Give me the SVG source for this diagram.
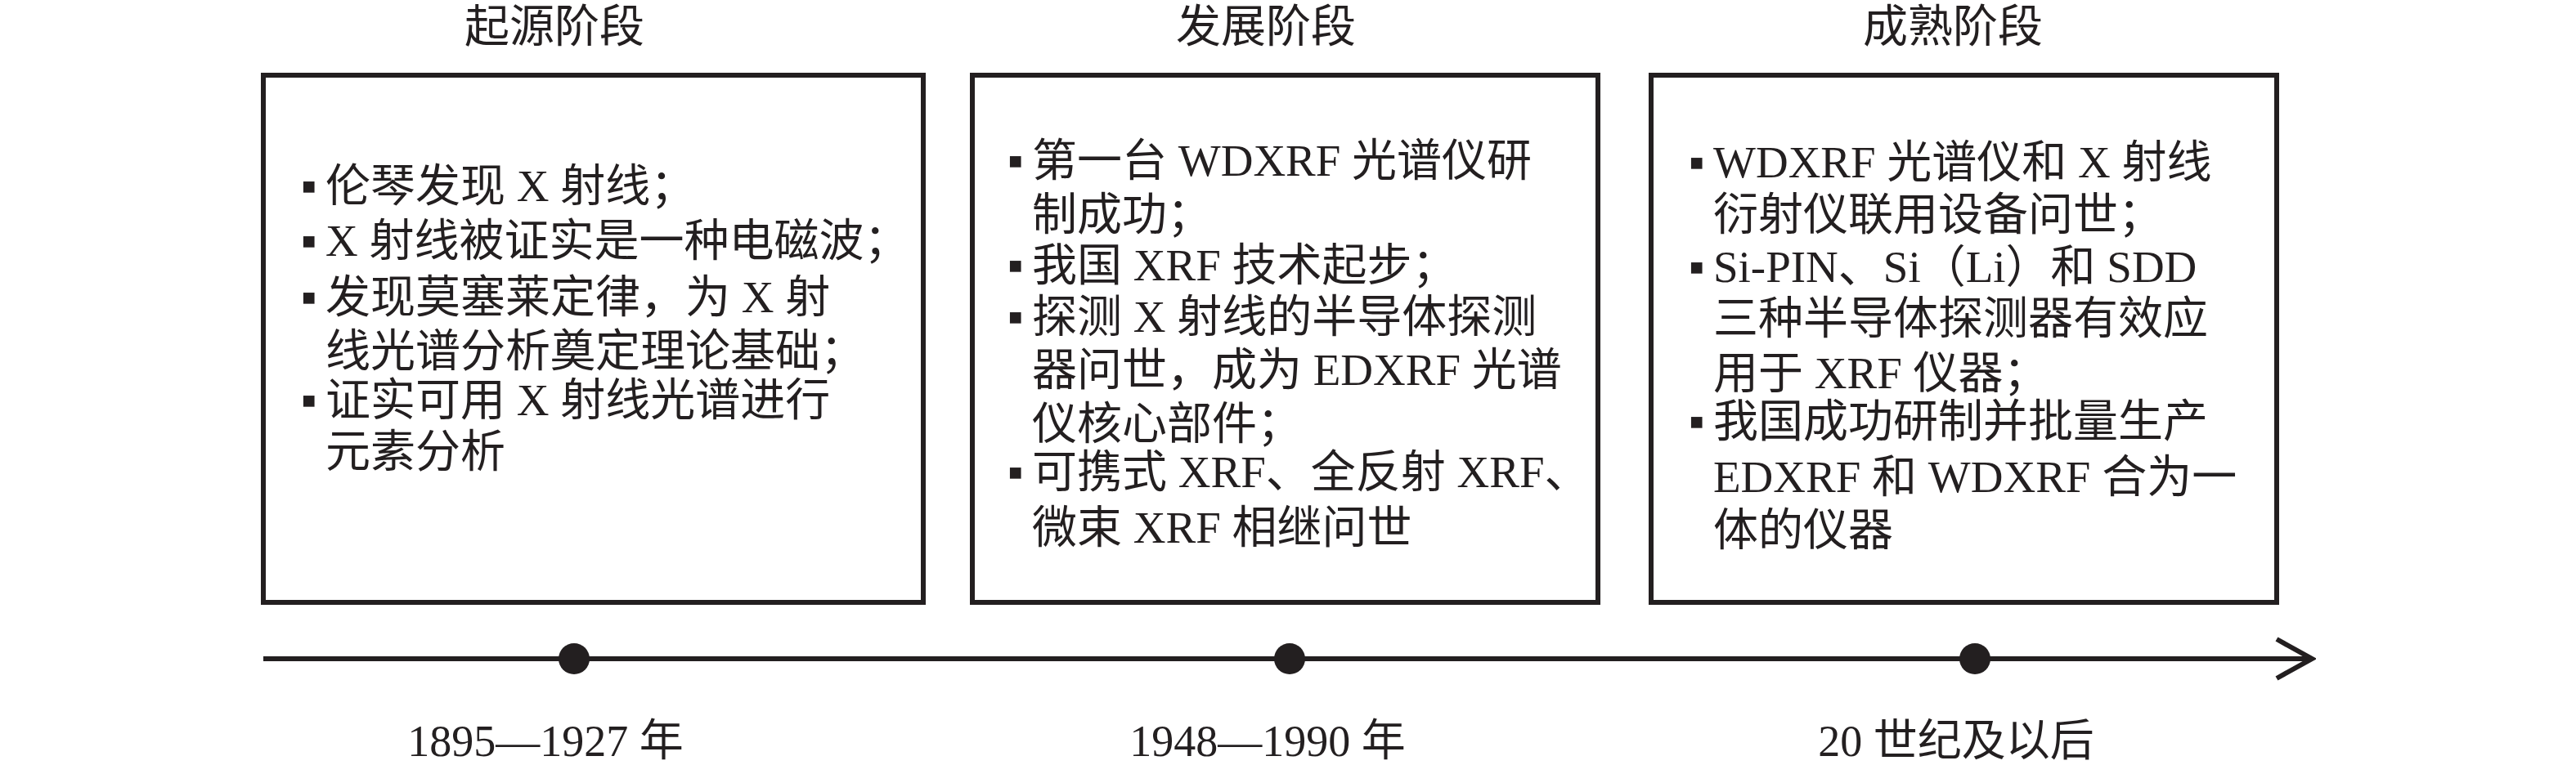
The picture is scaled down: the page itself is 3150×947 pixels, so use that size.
<svg xmlns="http://www.w3.org/2000/svg" width="3150" height="947" viewBox="0 0 3150 947">
<style>
.bg{fill:#ffffff}
.box{fill:#ffffff;stroke:#231f20;stroke-width:6}
.t{font-family:"Liberation Serif","Noto Sans CJK SC",serif;font-size:55px;fill:#231f20}
.ttl{font-family:"Liberation Serif","Noto Sans CJK SC",serif;font-size:55px;fill:#231f20;text-anchor:middle}
.yr{font-family:"Liberation Serif","Noto Sans CJK SC",serif;font-size:54px;fill:#231f20;text-anchor:middle}
.bul{font-family:"Liberation Serif","DejaVu Sans",serif;font-size:55px;fill:#231f20}
.dot{fill:#231f20}
.axis{fill:none;stroke:#231f20;stroke-width:6}
</style>
<defs>
<marker id="arr" markerUnits="userSpaceOnUse" viewBox="0 0 52 54" refX="44" refY="27" markerWidth="52" markerHeight="54" orient="auto">
<path d="M4,3 L47,27 L4,51" fill="none" stroke="#231f20" stroke-width="6"/>
</marker>
</defs>
<rect class="bg" x="0" y="0" width="3150" height="947"/>

<g id="connectors">
<path class="axis" d="M322,806 L2824,806" marker-end="url(#arr)"/>
</g>

<g id="stage1">
<text class="ttl" x="678" y="51">起源阶段</text>
<rect class="box" x="322" y="92" width="807" height="645"/>
<text class="bul" x="368" y="246">▪</text><text class="t" x="398" y="246">伦琴发现 X 射线；</text>
<text class="bul" x="368" y="313">▪</text><text class="t" x="398" y="313">X 射线被证实是一种电磁波；</text>
<text class="bul" x="368" y="382">▪</text><text class="t" x="398" y="382">发现莫塞莱定律，为 X 射</text>
<text class="t" x="398" y="448">线光谱分析奠定理论基础；</text>
<text class="bul" x="368" y="508">▪</text><text class="t" x="398" y="508">证实可用 X 射线光谱进行</text>
<text class="t" x="398" y="571">元素分析</text>
</g>

<g id="stage2">
<text class="ttl" x="1548" y="51">发展阶段</text>
<rect class="box" x="1189" y="92" width="765" height="645"/>
<text class="bul" x="1232" y="215">▪</text><text class="t" x="1262" y="215">第一台 WDXRF 光谱仪研</text>
<text class="t" x="1262" y="281">制成功；</text>
<text class="bul" x="1232" y="343">▪</text><text class="t" x="1262" y="343">我国 XRF 技术起步；</text>
<text class="bul" x="1232" y="406">▪</text><text class="t" x="1262" y="406">探测 X 射线的半导体探测</text>
<text class="t" x="1262" y="471">器问世，成为 EDXRF 光谱</text>
<text class="t" x="1262" y="537">仪核心部件；</text>
<text class="bul" x="1232" y="596">▪</text><text class="t" x="1262" y="596">可携式 XRF、全反射 XRF、</text>
<text class="t" x="1262" y="664">微束 XRF 相继问世</text>
</g>

<g id="stage3">
<text class="ttl" x="2388" y="51">成熟阶段</text>
<rect class="box" x="2019" y="92" width="765" height="645"/>
<text class="bul" x="2065" y="217">▪</text><text class="t" x="2095" y="217">WDXRF 光谱仪和 X 射线</text>
<text class="t" x="2095" y="281">衍射仪联用设备问世；</text>
<text class="bul" x="2065" y="345">▪</text><text class="t" x="2095" y="345">Si-PIN、Si（Li）和 SDD</text>
<text class="t" x="2095" y="408">三种半导体探测器有效应</text>
<text class="t" x="2095" y="475">用于 XRF 仪器；</text>
<text class="bul" x="2065" y="534">▪</text><text class="t" x="2095" y="534">我国成功研制并批量生产</text>
<text class="t" x="2095" y="602">EDXRF 和 WDXRF 合为一</text>
<text class="t" x="2095" y="667">体的仪器</text>
</g>

<g id="point1">
<circle class="dot" cx="702" cy="806" r="19"/>
<text class="yr" x="667" y="925">1895—1927 年</text>
</g>
<g id="point2">
<circle class="dot" cx="1577" cy="806" r="19"/>
<text class="yr" x="1550" y="925">1948—1990 年</text>
</g>
<g id="point3">
<circle class="dot" cx="2415" cy="806" r="19"/>
<text class="yr" x="2392" y="925">20 世纪及以后</text>
</g>
</svg>
